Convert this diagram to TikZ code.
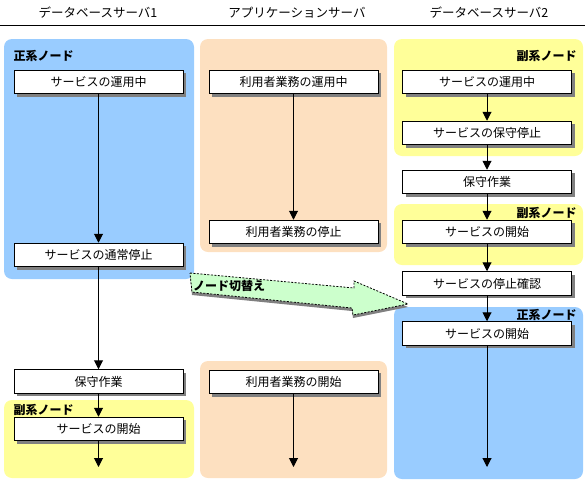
\documentclass[tikz,border=0pt]{standalone}
\usepackage{fontspec}
\setmainfont{Noto Sans CJK JP}
\usetikzlibrary{arrows.meta,shadows}
\definecolor{primblue}{RGB}{153,204,255}
\definecolor{secyellow}{RGB}{255,255,153}
\definecolor{apporange}{RGB}{253,224,192}
\definecolor{swgreen}{RGB}{204,255,204}

\begin{document}
\begin{tikzpicture}[x=1pt,y=-1pt,line width=1pt,
    box/.style={draw,fill=white,minimum width=169pt,minimum height=23.5pt,inner sep=0pt,
      font=\fontsize{12}{12}\selectfont,
      drop shadow={shadow xshift=3pt,shadow yshift=-3pt,fill=gray,opacity=1}},
    title/.style={font=\fontsize{12.5}{13}\selectfont},
    role/.style={font=\fontsize{12}{12}\selectfont\bfseries,inner sep=0pt},
    panel/.style={rounded corners=8pt},
    flow/.style={-{Triangle[width=9pt,length=9pt]}}]
\useasboundingbox (0,0) rectangle (588,480);
% panels
\fill[panel,primblue]  (  4, 39) rectangle (194,279);
\fill[panel,secyellow] (  4,400) rectangle (194,478);
\fill[panel,apporange] (200, 39) rectangle (387,252);
\fill[panel,apporange] (200,361) rectangle (387,478);
\fill[panel,secyellow] (394, 39) rectangle (583,156);
\fill[panel,secyellow] (394,204) rectangle (583,265);
\fill[panel,primblue]  (394,307) rectangle (583,479);
% header
\path
    ( 98,12.5) node [title] (db1)  {データベースサーバ1}
    (297,12.5) node [title] (app)  {アプリケーションサーバ}
    (489,12.5) node [title] (db2)  {データベースサーバ2};
\draw (0,25) -- (585,25);
% role labels
\path
    ( 13, 55.5) node [role,anchor=west] (prim1) {正系ノード}
    ( 13,409.5) node [role,anchor=west] (sec1)  {副系ノード}
    (577, 55.5) node [role,anchor=east] (sec2a) {副系ノード}
    (577,212.5) node [role,anchor=east] (sec2b) {副系ノード}
    (577,314.5) node [role,anchor=east] (prim2) {正系ノード};
% switch-over arrow
\fill[gray]
    (190,276) -- (354,291) -- (354,284) -- (408,307) -- (353,318) -- (352,311) -- (192,295) -- cycle;
\draw[fill=swgreen,dashed,dash pattern=on 2pt off 1.5pt,line width=.8pt]
    (190,273) -- (354,288) -- (354,281) -- (408,304) -- (353,315) -- (352,308) -- (192,292) -- cycle;
\node [role] (switch) at (229,286) {ノード切替え};
% database server 1
\path
    ( 98.5, 82  ) node [box] (svcrun1)   {サービスの運用中}
    ( 98.5,255  ) node [box] (svcstop1)  {サービスの通常停止}
    ( 98.5,381.5) node [box] (maint1)    {保守作業}
    ( 98.5,429  ) node [box] (svcstart1) {サービスの開始};
\coordinate (end1) at (98.5,467);
% application server
\path
    (293.5, 82  ) node [box] (apprun)    {利用者業務の運用中}
    (293.5,232  ) node [box] (appstop)   {利用者業務の停止}
    (293.5,382  ) node [box] (appstart)  {利用者業務の開始};
\coordinate (endapp) at (293.5,467);
% database server 2
\path
    (487, 82  ) node [box] (svcrun2)   {サービスの運用中}
    (487,133  ) node [box] (svchold2)  {サービスの保守停止}
    (487,182  ) node [box] (maint2)    {保守作業}
    (487,232  ) node [box] (svcstart2) {サービスの開始}
    (487,283.5) node [box] (svccheck2) {サービスの停止確認}
    (487,333.5) node [box] (svcprim2)  {サービスの開始};
\coordinate (end2) at (487,467);
% flows
\draw[flow] (svcrun1)   -- (svcstop1);
\draw[flow] (svcstop1)  -- (maint1);
\draw[flow] (maint1)    -- (svcstart1);
\draw[flow] (svcstart1) -- (end1);
\draw[flow] (apprun)    -- (appstop);
\draw[flow] (appstart)  -- (endapp);
\draw[flow] (svcrun2)   -- (svchold2);
\draw[flow] (svchold2)  -- (maint2);
\draw[flow] (maint2)    -- (svcstart2);
\draw[flow] (svcstart2) -- (svccheck2);
\draw[flow] (svccheck2) -- (svcprim2);
\draw[flow] (svcprim2)  -- (end2);
\end{tikzpicture}
\end{document}
